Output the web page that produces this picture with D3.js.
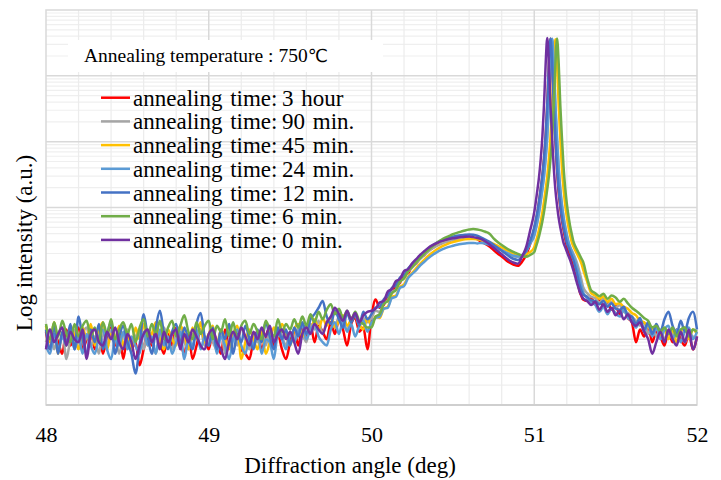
<!DOCTYPE html>
<html><head><meta charset="utf-8">
<script src="https://cdn.jsdelivr.net/npm/d3@7"></script>
<style>body{margin:0;background:#fff}svg{display:block}</style>
</head><body><svg id="chart" width="721" height="480"></svg>
<script>
// ---------- DATA ----------
const angles = [
48, 48.025, 48.05, 48.075, 48.1, 48.125, 48.15, 48.175, 48.2, 48.225,
48.25, 48.275, 48.3, 48.325, 48.35, 48.375, 48.4, 48.425, 48.45, 48.475,
48.5, 48.525, 48.55, 48.575, 48.6, 48.625, 48.65, 48.675, 48.7, 48.725,
48.75, 48.775, 48.8, 48.825, 48.85, 48.875, 48.9, 48.925, 48.95, 48.975,
49, 49.025, 49.05, 49.075, 49.1, 49.125, 49.15, 49.175, 49.2, 49.225,
49.25, 49.275, 49.3, 49.325, 49.35, 49.375, 49.4, 49.425, 49.45, 49.475,
49.5, 49.525, 49.55, 49.575, 49.6, 49.625, 49.65, 49.675, 49.7, 49.725,
49.75, 49.775, 49.8, 49.825, 49.85, 49.875, 49.9, 49.925, 49.95, 49.975,
50, 50.025, 50.05, 50.075, 50.1, 50.125, 50.15, 50.175, 50.2, 50.225,
50.25, 50.275, 50.3, 50.325, 50.35, 50.375, 50.4, 50.425, 50.45, 50.475,
50.5, 50.525, 50.55, 50.575, 50.6, 50.625, 50.65, 50.675, 50.7, 50.725,
50.75, 50.775, 50.8, 50.825, 50.85, 50.875, 50.9, 50.925, 50.95, 50.975,
51, 51.01, 51.02, 51.03, 51.04, 51.05, 51.06, 51.07, 51.08, 51.09,
51.1, 51.11, 51.12, 51.13, 51.14, 51.15, 51.16, 51.17, 51.18, 51.19,
51.2, 51.21, 51.22, 51.23, 51.24, 51.25, 51.26, 51.27, 51.28, 51.29,
51.3,
51.325, 51.35, 51.375, 51.4, 51.425, 51.45, 51.475, 51.5, 51.525, 51.55,
51.575, 51.6, 51.625, 51.65, 51.675, 51.7, 51.725, 51.75, 51.775, 51.8,
51.825, 51.85, 51.875, 51.9, 51.925, 51.95, 51.975, 52
];

const time3hour = [
13, 7, 12, 9, 6, 14, 8, 11, 15, 7,
10, 14, 7, 12, 6, 11, 15, 8, 12, 5,
11, 7, 9, 4, 7, 13, 8, 14, 9, 6,
12, 8, 15, 9, 6, 12, 5, 8, 14, 10,
7, 13, 9, 6, 14, 8, 11, 13, 7, 6,
5, 10, 13, 7, 11, 15, 8, 12, 7, 5,
9, 14, 8, 15, 11, 17, 9, 16, 13, 10,
18, 12, 20, 14, 8, 17, 21, 13, 15, 7,
22, 40, 30, 33, 45, 50, 64, 72, 95, 100,
130, 140, 175, 190, 225, 240, 270, 280, 305, 310,
330, 330, 350, 345, 355, 340, 330, 300, 280, 255,
225, 200, 180, 160, 145, 135, 130, 150, 190, 280,
470, 620, 850, 1250, 1900, 3000, 5500, 12000, 36000, 150000,
365000, 150000, 34000, 10500, 3700, 1700, 1000, 650, 460, 340,
260, 215, 180, 150, 125, 100, 85, 68, 52, 45,
40,
38, 42, 34, 40, 31, 36, 28, 32, 24, 29,
21, 18, 9, 14, 11, 16, 9, 13, 11, 8,
13, 9, 14, 10, 8, 12, 7, 11
];

const time90min = [
9, 14, 7, 12, 15, 5, 10, 14, 7, 12,
15, 8, 11, 6, 13, 8, 14, 11, 6, 12,
14, 8, 11, 13, 7, 14, 10, 6, 12, 15,
9, 7, 13, 15, 9, 7, 12, 10, 14, 8,
12, 9, 7, 14, 6, 10, 13, 8, 15, 10,
7, 12, 9, 14, 8, 13, 10, 15, 11, 8,
13, 10, 15, 12, 9, 17, 14, 19, 12, 18,
21, 15, 22, 17, 14, 20, 23, 16, 21, 18,
21, 27, 26, 35, 39, 52, 57, 76, 84, 106,
122, 142, 166, 190, 215, 240, 260, 280, 295, 310,
320, 330, 338, 342, 343, 340, 332, 318, 300, 282,
262, 242, 224, 206, 192, 182, 178, 185, 215, 285,
370, 470, 620, 850, 1250, 1900, 3000, 5500, 12000, 36000,
150000, 365000, 155000, 35000, 11000, 4000, 1900, 1100, 720, 510,
385, 300, 255, 225, 200, 175, 150, 125, 100, 80,
62,
50, 44, 42, 36, 41, 33, 37, 30, 33, 26,
25, 22, 19, 16, 18, 12, 15, 11, 14, 10,
13, 12, 9, 14, 9, 12, 11, 10
];

const time45min = [
16, 9, 18, 6, 13, 8, 16, 11, 7, 15,
10, 17, 8, 13, 18, 7, 12, 10, 16, 8,
13, 7, 15, 10, 17, 8, 12, 18, 10, 7,
14, 10, 8, 16, 12, 7, 15, 10, 18, 9,
12, 16, 8, 14, 10, 7, 12, 16, 5, 9,
14, 10, 7, 13, 6, 9, 15, 11, 17, 12,
8, 14, 17, 11, 16, 13, 20, 14, 21, 16,
22, 15, 19, 23, 16, 20, 24, 17, 14, 21,
16, 22, 21, 29, 31, 44, 46, 62, 68, 88,
102, 120, 140, 162, 185, 208, 230, 250, 268, 285,
298, 310, 320, 328, 332, 332, 328, 320, 308, 295,
280, 262, 245, 228, 212, 200, 192, 188, 195, 210,
250, 300, 370, 470, 620, 850, 1250, 1900, 3000, 5500,
12000, 36000, 150000, 360000, 155000, 36000, 11200, 4000, 1900, 1100,
720, 510, 385, 300, 257, 229, 204, 182, 162, 140,
115,
75, 50, 46, 41, 45, 37, 41, 34, 35, 31,
29, 25, 23, 19, 18, 15, 14, 16, 11, 14,
10, 14, 9, 13, 15, 10, 14, 12
];

const time24min = [
8, 6, 12, 7, 11, 8, 14, 7, 11, 6,
12, 8, 6, 11, 14, 7, 5, 10, 8, 13,
7, 11, 8, 6, 13, 8, 11, 6, 14, 8,
11, 6, 9, 13, 5, 10, 8, 14, 7, 11,
8, 13, 6, 11, 8, 5, 10, 14, 8, 6,
11, 8, 13, 6, 10, 9, 5, 12, 10, 7,
12, 9, 13, 16, 10, 14, 17, 11, 9, 8,
14, 18, 12, 19, 13, 17, 11, 16, 19, 13,
18, 21, 22, 29, 30, 42, 44, 60, 64, 85,
98, 112, 132, 150, 170, 190, 208, 225, 240, 252,
262, 272, 280, 285, 288, 290, 285, 290, 282, 272,
258, 242, 225, 208, 195, 185, 180, 190, 215, 285,
380, 480, 630, 860, 1260, 1900, 3000, 5500, 12000, 36000,
150000, 365000, 158000, 36000, 11200, 4000, 1900, 1100, 720, 510,
385, 300, 250, 215, 185, 160, 130, 105, 82, 64,
52,
42, 36, 33, 26, 31, 24, 29, 25, 22, 28,
21, 19, 15, 19, 13, 17, 11, 15, 10, 14,
16, 10, 14, 9, 13, 15, 10, 13
];

const time12min = [
14, 7, 16, 6, 13, 9, 17, 7, 22, 10,
6, 14, 9, 17, 7, 12, 18, 6, 11, 16,
9, 6, 3, 8, 24, 11, 6, 15, 27, 12,
7, 13, 17, 8, 15, 10, 7, 17, 25, 11,
8, 15, 7, 14, 10, 17, 6, 12, 9, 16,
10, 7, 14, 9, 18, 11, 7, 15, 10, 14,
8, 15, 11, 18, 12, 20, 24, 30, 38, 22,
17, 27, 20, 15, 25, 18, 24, 16, 26, 20,
24, 30, 31, 40, 46, 60, 66, 86, 94, 118,
138, 158, 185, 210, 240, 265, 290, 310, 330, 345,
360, 372, 380, 385, 390, 385, 372, 350, 325, 300,
272, 245, 220, 198, 178, 165, 160, 180, 220, 310,
500, 650, 880, 1280, 1950, 3100, 5600, 12500, 37000, 152000,
370000, 156000, 35500, 11000, 4000, 1850, 1080, 700, 500, 375,
290, 250, 215, 185, 160, 130, 105, 82, 65, 54,
48,
44, 39, 38, 34, 38, 31, 35, 29, 28, 31,
23, 22, 17, 21, 14, 18, 12, 17, 13, 20,
26, 16, 12, 19, 13, 21, 26, 14
];

const time6min = [
17, 10, 18, 11, 19, 12, 9, 17, 11, 16,
19, 11, 15, 9, 18, 12, 20, 10, 14, 18,
12, 17, 9, 15, 20, 11, 17, 12, 19, 10,
15, 19, 11, 16, 23, 13, 10, 18, 12, 16,
19, 10, 16, 13, 20, 11, 18, 10, 16, 19,
12, 17, 13, 10, 19, 14, 11, 20, 13, 17,
14, 20, 15, 22, 16, 24, 18, 26, 20, 28,
34, 24, 29, 21, 27, 20, 26, 19, 17, 15,
15, 22, 24, 34, 38, 50, 56, 75, 84, 108,
125, 148, 172, 200, 228, 258, 290, 318, 345, 368,
392, 412, 430, 448, 462, 470, 465, 450, 428, 400,
340, 300, 270, 245, 225, 210, 198, 186, 178, 190,
210, 250, 300, 370, 470, 620, 850, 1250, 1900, 3000,
5500, 12000, 36000, 150000, 370000, 158000, 36000, 11500, 4200, 2000,
1150, 750, 530, 400, 310, 265, 235, 210, 188, 168,
150,
85, 55, 50, 45, 49, 41, 46, 43, 37, 41,
35, 30, 27, 24, 21, 19, 15, 16, 13, 15,
12, 15, 11, 14, 15, 11, 14, 13
];

const time0min = [
7, 14, 9, 12, 15, 8, 13, 10, 9, 14,
5, 12, 14, 9, 8, 13, 10, 15, 9, 7,
12, 9, 5, 8, 12, 14, 9, 12, 7, 13,
9, 12, 14, 7, 12, 9, 14, 11, 8, 7,
12, 14, 9, 7, 5, 9, 13, 10, 15, 11,
8, 13, 10, 15, 11, 16, 9, 12, 14, 10,
13, 9, 6, 12, 15, 12, 17, 14, 12, 18,
22, 30, 24, 19, 27, 20, 25, 18, 23, 26,
27, 29, 36, 38, 53, 58, 76, 82, 108, 116,
142, 165, 192, 218, 245, 268, 288, 305, 320, 332,
340, 348, 355, 360, 362, 355, 345, 330, 305, 275,
245, 218, 195, 172, 155, 145, 140, 180, 250, 450,
850, 1250, 1900, 3000, 5500, 12000, 36000, 150000, 375000, 155000,
35000, 11000, 4000, 1850, 1080, 700, 500, 375, 290, 250,
215, 185, 160, 135, 112, 92, 75, 62, 52, 46,
42,
38, 33, 37, 28, 34, 26, 30, 23, 27, 20,
24, 18, 16, 18, 13, 10, 6, 9, 13, 9,
14, 10, 8, 13, 9, 14, 7, 11
];

const seriesLabels = ["3 hour", "90 min.", "45 min.", "24 min.", "12 min.", "6 min.", "0 min."];
const seriesColors = ["#FF0000", "#A5A5A5", "#FFC000", "#5B9BD5", "#4472C4", "#70AD47", "#7030A0"];
const seriesValues = [time3hour, time90min, time45min, time24min, time12min, time6min, time0min];
const xTickLabels = [48, 49, 50, 51, 52];
const titleText = "Annealing temperature : 750";
const xTitle = "Diffraction angle (deg)";
const yTitle = "Log intensity (a.u.)";

// ---------- CHART ----------
seriesValues.forEach((s, i) => { if (s.length !== angles.length) throw new Error("series " + i + " length " + s.length + " vs " + angles.length); });

const svg = d3.select("#chart");
const L = 46, R = 697, T = 10, B = 405;
const serif = "'Liberation Serif','Times New Roman',serif";
const x = d3.scaleLinear().domain([48, 52]).range([L, R]);
const y = d3.scaleLog().domain([1, 1e6]).range([B, T]);

const grid = svg.append("g");
const minorY = [];
for (let d = 0; d < 6; d++) for (let k = 2; k <= 9; k++) minorY.push(k * Math.pow(10, d));
grid.selectAll(".my").data(minorY).join("line")
  .attr("x1", L).attr("x2", R).attr("y1", d => y(d)).attr("y2", d => y(d))
  .attr("stroke", "#efefef").attr("stroke-width", 1.2);
const minorX = x.ticks(20).filter(v => !xTickLabels.includes(v));
grid.selectAll(".mx").data(minorX).join("line")
  .attr("x1", d => x(d)).attr("x2", d => x(d)).attr("y1", T).attr("y2", B)
  .attr("stroke", "#ececec").attr("stroke-width", 1.2);
const majorY = [10, 100, 1000, 10000, 100000];
grid.selectAll(".My").data(majorY).join("line")
  .attr("x1", L).attr("x2", R).attr("y1", d => y(d)).attr("y2", d => y(d))
  .attr("stroke", "#d9d9d9").attr("stroke-width", 1.5);
grid.selectAll(".Mx").data(xTickLabels.slice(1, -1)).join("line")
  .attr("x1", d => x(d)).attr("x2", d => x(d)).attr("y1", T).attr("y2", B)
  .attr("stroke", "#d9d9d9").attr("stroke-width", 1.5);
grid.append("rect").attr("x", L).attr("y", T).attr("width", R - L).attr("height", B - T)
  .attr("fill", "none").attr("stroke", "#d9d9d9").attr("stroke-width", 1.5);
grid.append("line").attr("x1", L).attr("x2", R).attr("y1", B).attr("y2", B)
  .attr("stroke", "#cfcfcf").attr("stroke-width", 2);

// title box
svg.append("rect").attr("x", 68).attr("y", 40).attr("width", 315).attr("height", 32).attr("fill", "#fff");
const tt = svg.append("text").attr("x", 84).attr("y", 62)
  .attr("font-family", serif).attr("font-size", 19.5).attr("fill", "#000");
tt.append("tspan").text(titleText);
tt.append("tspan").attr("font-family", "'DejaVu Sans',sans-serif").attr("font-size", 18).text("\u2103");

// series
const line = d3.line().x((d, i) => x(angles[i])).y(d => y(d)).curve(d3.curveMonotoneX);
svg.append("g").selectAll("path").data(seriesValues).join("path")
  .attr("d", d => line(d)).attr("fill", "none")
  .attr("stroke", (d, i) => seriesColors[i]).attr("stroke-width", 2.5)
  .attr("stroke-linejoin", "round");

// x axis
const xAxis = svg.append("g").attr("transform", `translate(0,${B})`)
  .call(d3.axisBottom(x).tickValues(xTickLabels).tickSize(0).tickFormat(d3.format("d")));
xAxis.select(".domain").remove();
xAxis.selectAll("text").attr("y", 37).attr("dy", 0)
  .attr("font-family", serif).attr("font-size", 22).attr("fill", "#000");

// axis titles
svg.append("text").attr("x", 350).attr("y", 473).attr("text-anchor", "middle")
  .attr("font-family", serif).attr("font-size", 23).attr("fill", "#000").text(xTitle);
svg.append("text").attr("transform", "translate(32,243) rotate(-90)").attr("text-anchor", "middle")
  .attr("font-family", serif).attr("font-size", 23).attr("fill", "#000").text(yTitle);

// legend
const lg = svg.append("g");
seriesLabels.forEach((lab, i) => {
  const cy = 97.7 + i * 23.7;
  lg.append("line").attr("x1", 101).attr("x2", 130).attr("y1", cy).attr("y2", cy)
    .attr("stroke", seriesColors[i]).attr("stroke-width", 2.5);
  lg.append("text").attr("x", 133).attr("y", cy + 8)
    .attr("font-family", serif).attr("font-size", 23).attr("fill", "#000")
    .attr("word-spacing", 2)
    .text("annealing time:\u2009" + lab);
});
</script></body></html>
